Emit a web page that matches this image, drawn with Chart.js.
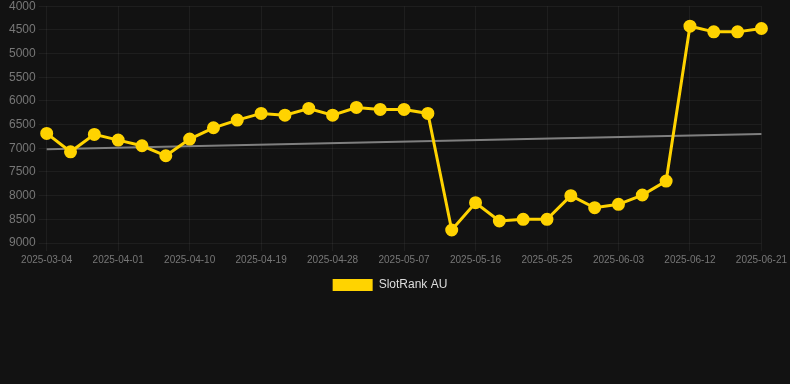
<!DOCTYPE html>
<html>
<head>
<meta charset="utf-8">
<script src="https://cdn.jsdelivr.net/npm/chart.js@4"></script>
<style>
  html, body { margin: 0; padding: 0; background: #121212; overflow: hidden; }
  #wrap { position: relative; top: -4px; width: 790px; height: 305px; }
</style>
</head>
<body>
<div id="wrap"><canvas id="c"></canvas></div>
<script>
const categories = [
  "2025-03-04","2025-03-26","2025-03-29","2025-04-01","2025-04-04","2025-04-07",
  "2025-04-10","2025-04-13","2025-04-16","2025-04-19","2025-04-22","2025-04-25",
  "2025-04-28","2025-05-01","2025-05-04","2025-05-07","2025-05-10","2025-05-13",
  "2025-05-16","2025-05-19","2025-05-22","2025-05-25","2025-05-28","2025-05-31",
  "2025-06-03","2025-06-06","2025-06-09","2025-06-12","2025-06-15","2025-06-18",
  "2025-06-21"
];
const rankValues = [
  6686, 7074, 6707, 6827, 6947, 7158,
  6806, 6567, 6405, 6264, 6300, 6159,
  6300, 6138, 6180, 6180, 6264, 8726,
  8149, 8536, 8500, 8500, 8000, 8255,
  8184, 7987, 7692, 4422, 4542, 4542,
  4471
];
const trendStart = 7023;
const trendEnd = 6700;
const yTicks = [4000, 4500, 5000, 5500, 6000, 6500, 7000, 7500, 8000, 8500, 9000];
const seriesLabel = "SlotRank AU";

const trendValues = categories.map((_, i) =>
  i === 0 ? trendStart : (i === categories.length - 1 ? trendEnd : null));

const legendShift = {
  id: 'legendShift',
  afterLayout(chart) {
    if (chart.legend) { chart.legend.left = -10; }
  }
};

new Chart(document.getElementById('c'), {
  type: 'line',
  plugins: [legendShift],
  data: {
    labels: categories,
    datasets: [
      {
        label: seriesLabel,
        data: rankValues,
        borderColor: '#FFD300',
        backgroundColor: '#FFD300',
        borderWidth: 3,
        pointRadius: 5,
        pointHoverRadius: 5,
        pointBackgroundColor: '#FFD300',
        pointBorderColor: '#FFD300',
        tension: 0,
        order: 1
      },
      {
        label: 'trend',
        data: trendValues,
        borderColor: 'rgba(140,140,140,0.9)',
        borderWidth: 2,
        pointRadius: 0,
        spanGaps: true,
        tension: 0,
        order: 2
      }
    ]
  },
  options: {
    responsive: true,
    maintainAspectRatio: false,
    animation: false,
    layout: { padding: { left: 6 } },
    plugins: {
      legend: {
        position: 'bottom',
        labels: {
          color: '#dddddd',
          font: { family: 'Liberation Sans, Arial, sans-serif', size: 12 },
          boxWidth: 40,
          boxHeight: 12,
          generateLabels: (chart) => {
            const items = Chart.defaults.plugins.legend.labels.generateLabels(chart);
            return items.filter(it => it.text === seriesLabel).map(it => {
              it.lineWidth = 0;
              return it;
            });
          }
        }
      },
      tooltip: { enabled: false }
    },
    scales: {
      x: {
        grid: { color: 'rgba(255,255,255,0.05)' },
        border: { display: false },
        ticks: {
          color: '#777777',
          font: { family: 'Liberation Sans, Arial, sans-serif', size: 10 },
          autoSkip: false,
          maxRotation: 0,
          callback: function(v, i) { return i % 3 === 0 ? categories[i] : null; }
        }
      },
      y: {
        reverse: true,
        min: yTicks[0],
        max: yTicks[yTicks.length - 1],
        grid: { color: 'rgba(255,255,255,0.05)' },
        border: { display: false },
        afterBuildTicks: (axis) => { axis.ticks = yTicks.map(v => ({ value: v })); },
        ticks: {
          color: '#777777',
          font: { family: 'Liberation Sans, Arial, sans-serif', size: 12 },
          callback: (v) => String(v)
        }
      }
    }
  }
});
</script>
</body>
</html>
